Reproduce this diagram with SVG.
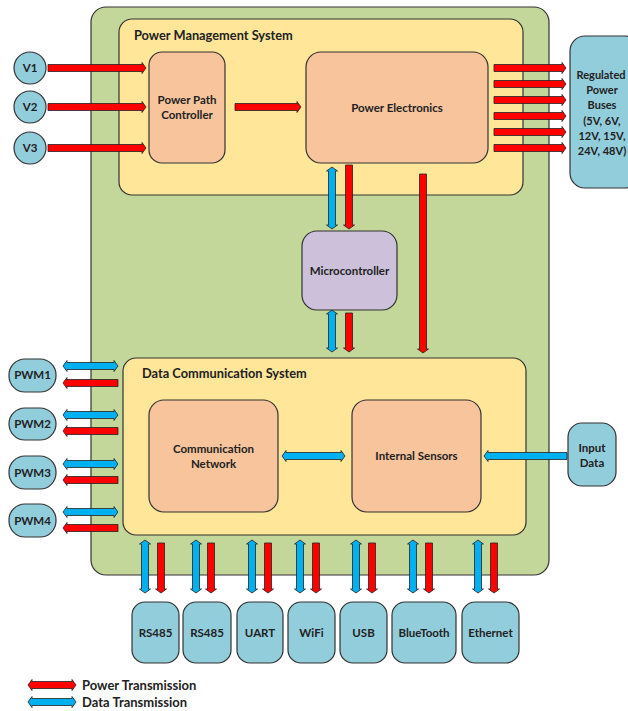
<svg xmlns="http://www.w3.org/2000/svg" xmlns:xlink="http://www.w3.org/1999/xlink" width="628" height="711" viewBox="0 0 628 711">
<style>
.box{stroke:#333;stroke-width:1.2}
.green{fill:#c4d79b}
.yellow{fill:#ffe699}
.peach{fill:#f8c49c}
.lav{fill:#ccc0da}
.blue{fill:#92cddc}
.t{font-family:Lato,"Open Sans",sans-serif;font-weight:bold;font-size:11.5px;fill:#222;text-anchor:middle}
.rb{font-size:11px}
.title{font-family:Lato,"Open Sans",sans-serif;font-weight:bold;font-size:12.8px;fill:#222}
.leg{font-family:Lato,"Open Sans",sans-serif;font-weight:bold;font-size:13px;fill:#222}
.pw{fill:#ff0000;stroke:#222;stroke-width:0.8}
.dt{fill:#00b0f0;stroke:#222;stroke-width:0.8}
</style>
<defs>
<path id="vdbl" d="M0,540L5.5,544H3.5V589H5.5L0,593L-5.5,589H-3.5V544H-5.5Z"/>
<path id="vdown" d="M-3.5,543V589H-5.5L0,593L5.5,589H3.5V543Z"/>
<path id="hdbl" d="M63,0L67,-5.5V-3.5H114V-5.5L118,0L114,5.5V3.5H67V5.5Z"/>
<path id="hleft" d="M118,-3.5H67V-5.5L63,0L67,5.5V3.5H118Z"/>
<path id="hout" d="M494,-3.5H562V-5.5L566,0L562,5.5V3.5H494Z"/>
</defs>

<g id="system"><rect class="box green" x="91" y="7" width="458" height="568" rx="15"/></g>

<g id="power-management"><rect class="box yellow" x="119" y="19" width="404" height="176" rx="13"/>
<text class="title" x="134" y="40">Power Management System</text></g>

<g id="power-path-controller"><rect class="box peach" x="149" y="52" width="76" height="111" rx="13"/>
<text class="t" x="187" y="104">Power Path</text><text class="t" x="187" y="119">Controller</text></g>

<g id="power-electronics"><rect class="box peach" x="306" y="52" width="182" height="111" rx="15"/>
<text class="t" x="397" y="112">Power Electronics</text></g>

<g id="v1"><circle class="box blue" cx="30" cy="68" r="16"/><text class="t" x="30" y="72">V1</text></g>
<g id="v2"><circle class="box blue" cx="30" cy="107" r="16"/><text class="t" x="30" y="111">V2</text></g>
<g id="v3"><circle class="box blue" cx="30" cy="148" r="16"/><text class="t" x="30" y="152">V3</text></g>

<g id="regulated-power-buses"><rect class="box blue" x="570" y="36" width="70" height="152" rx="15"/>
<text class="t rb" x="601" y="79">Regulated</text><text class="t rb" x="602" y="94">Power</text><text class="t rb" x="602" y="109">Buses</text>
<text class="t rb" x="602" y="125">(5V, 6V,</text><text class="t rb" x="602" y="140">12V, 15V,</text><text class="t rb" x="602" y="155">24V, 48V)</text></g>

<g id="microcontroller"><rect class="box lav" x="302" y="231" width="95" height="79" rx="15"/>
<text class="t" x="349.5" y="275">Microcontroller</text></g>

<g id="data-communication"><rect class="box yellow" x="123" y="358" width="403" height="177" rx="13"/>
<text class="title" x="142" y="378">Data Communication System</text></g>

<g id="communication-network"><rect class="box peach" x="149" y="400" width="129" height="112" rx="15"/>
<text class="t" x="213.5" y="453">Communication</text><text class="t" x="213.5" y="468">Network</text></g>

<g id="internal-sensors"><rect class="box peach" x="352" y="400" width="129" height="112" rx="15"/>
<text class="t" x="416.5" y="460">Internal Sensors</text></g>

<g id="input-data"><rect class="box blue" x="568" y="423" width="48" height="63" rx="14"/>
<text class="t" x="592" y="452">Input</text><text class="t" x="592" y="467">Data</text></g>

<g id="pwm1"><rect class="box blue" x="9" y="359" width="47" height="33" rx="16"/><text class="t" x="32.5" y="379">PWM1</text></g>
<g id="pwm2"><rect class="box blue" x="9" y="408" width="47" height="32" rx="16"/><text class="t" x="32.5" y="428">PWM2</text></g>
<g id="pwm3"><rect class="box blue" x="9" y="456" width="47" height="33" rx="16"/><text class="t" x="32.5" y="477">PWM3</text></g>
<g id="pwm4"><rect class="box blue" x="9" y="504" width="47" height="33" rx="16"/><text class="t" x="32.5" y="525">PWM4</text></g>

<g id="rs485a"><rect class="box blue" x="132" y="602" width="47" height="61" rx="13"/><text class="t" x="155.5" y="637">RS485</text></g>
<g id="rs485b"><rect class="box blue" x="183" y="602" width="48" height="61" rx="13"/><text class="t" x="207" y="637">RS485</text></g>
<g id="uart"><rect class="box blue" x="237" y="602" width="46" height="61" rx="13"/><text class="t" x="260" y="637">UART</text></g>
<g id="wifi"><rect class="box blue" x="288" y="602" width="47" height="61" rx="13"/><text class="t" x="311.5" y="637">WiFi</text></g>
<g id="usb"><rect class="box blue" x="340" y="602" width="47" height="61" rx="13"/><text class="t" x="363.5" y="637">USB</text></g>
<g id="bluetooth"><rect class="box blue" x="392" y="602" width="64" height="61" rx="13"/><text class="t" x="424" y="637">BlueTooth</text></g>
<g id="ethernet"><rect class="box blue" x="462" y="602" width="57" height="61" rx="13"/><text class="t" x="490.5" y="637">Ethernet</text></g>

<g id="connectors">
<path class="pw" d="M48,64.5H142V62.5L146,68L142,73.5V71.5H48Z"/>
<path class="pw" d="M48,103.5H142V101.5L146,107L142,112.5V110.5H48Z"/>
<path class="pw" d="M48,144.5H142V142.5L146,148L142,153.5V151.5H48Z"/>
<path class="pw" d="M235,103.5H297V101.5L301,107L297,112.5V110.5H235Z"/>
<use class="pw" href="#hout" transform="translate(0,68)"/>
<use class="pw" href="#hout" transform="translate(0,84)"/>
<use class="pw" href="#hout" transform="translate(0,100)"/>
<use class="pw" href="#hout" transform="translate(0,116)"/>
<use class="pw" href="#hout" transform="translate(0,132)"/>
<use class="pw" href="#hout" transform="translate(0,148)"/>
<path class="dt" d="M332,167L337.5,171H335.5V225H337.5L332,229L326.5,225H328.5V171H326.5Z"/>
<path class="pw" d="M345.5,165V225H343.5L349,229L354.5,225H352.5V165Z"/>
<path class="pw" d="M419.5,174V349H417.5L423,353L428.5,349H426.5V174Z"/>
<path class="dt" d="M332,310L337.5,314H335.5V348H337.5L332,352L326.5,348H328.5V314H326.5Z"/>
<path class="pw" d="M345.5,313V348H343.5L349,352L354.5,348H352.5V313Z"/>
<path class="dt" d="M282,456L286,450.5V452.5H341V450.5L345,456L341,461.5V459.5H286V461.5Z"/>
<path class="dt" d="M567,452.5H488V450.5L484,456L488,461.5V459.5H567Z"/>
<use class="dt" href="#hdbl" transform="translate(0,366)"/>
<use class="pw" href="#hleft" transform="translate(0,383)"/>
<use class="dt" href="#hdbl" transform="translate(0,415)"/>
<use class="pw" href="#hleft" transform="translate(0,431)"/>
<use class="dt" href="#hdbl" transform="translate(0,464)"/>
<use class="pw" href="#hleft" transform="translate(0,480)"/>
<use class="dt" href="#hdbl" transform="translate(0,512)"/>
<use class="pw" href="#hleft" transform="translate(0,528)"/>
<use class="dt" href="#vdbl" transform="translate(145,0)"/>
<use class="pw" href="#vdown" transform="translate(161,0)"/>
<use class="dt" href="#vdbl" transform="translate(196,0)"/>
<use class="pw" href="#vdown" transform="translate(211,0)"/>
<use class="dt" href="#vdbl" transform="translate(252,0)"/>
<use class="pw" href="#vdown" transform="translate(268,0)"/>
<use class="dt" href="#vdbl" transform="translate(300,0)"/>
<use class="pw" href="#vdown" transform="translate(316,0)"/>
<use class="dt" href="#vdbl" transform="translate(356,0)"/>
<use class="pw" href="#vdown" transform="translate(372,0)"/>
<use class="dt" href="#vdbl" transform="translate(413,0)"/>
<use class="pw" href="#vdown" transform="translate(429,0)"/>
<use class="dt" href="#vdbl" transform="translate(478,0)"/>
<use class="pw" href="#vdown" transform="translate(494,0)"/>
</g>

<g id="legend">
<path class="pw" d="M28,685L32,679.5V681.5H72V679.5L76,685L72,690.5V688.5H32V690.5Z"/>
<path class="dt" d="M28,702L32,696.5V698.5H72V696.5L76,702L72,707.5V705.5H32V707.5Z"/>
<text class="leg" x="82" y="689.5">Power Transmission</text>
<text class="leg" x="82" y="706.5">Data Transmission</text>
</g>
</svg>
